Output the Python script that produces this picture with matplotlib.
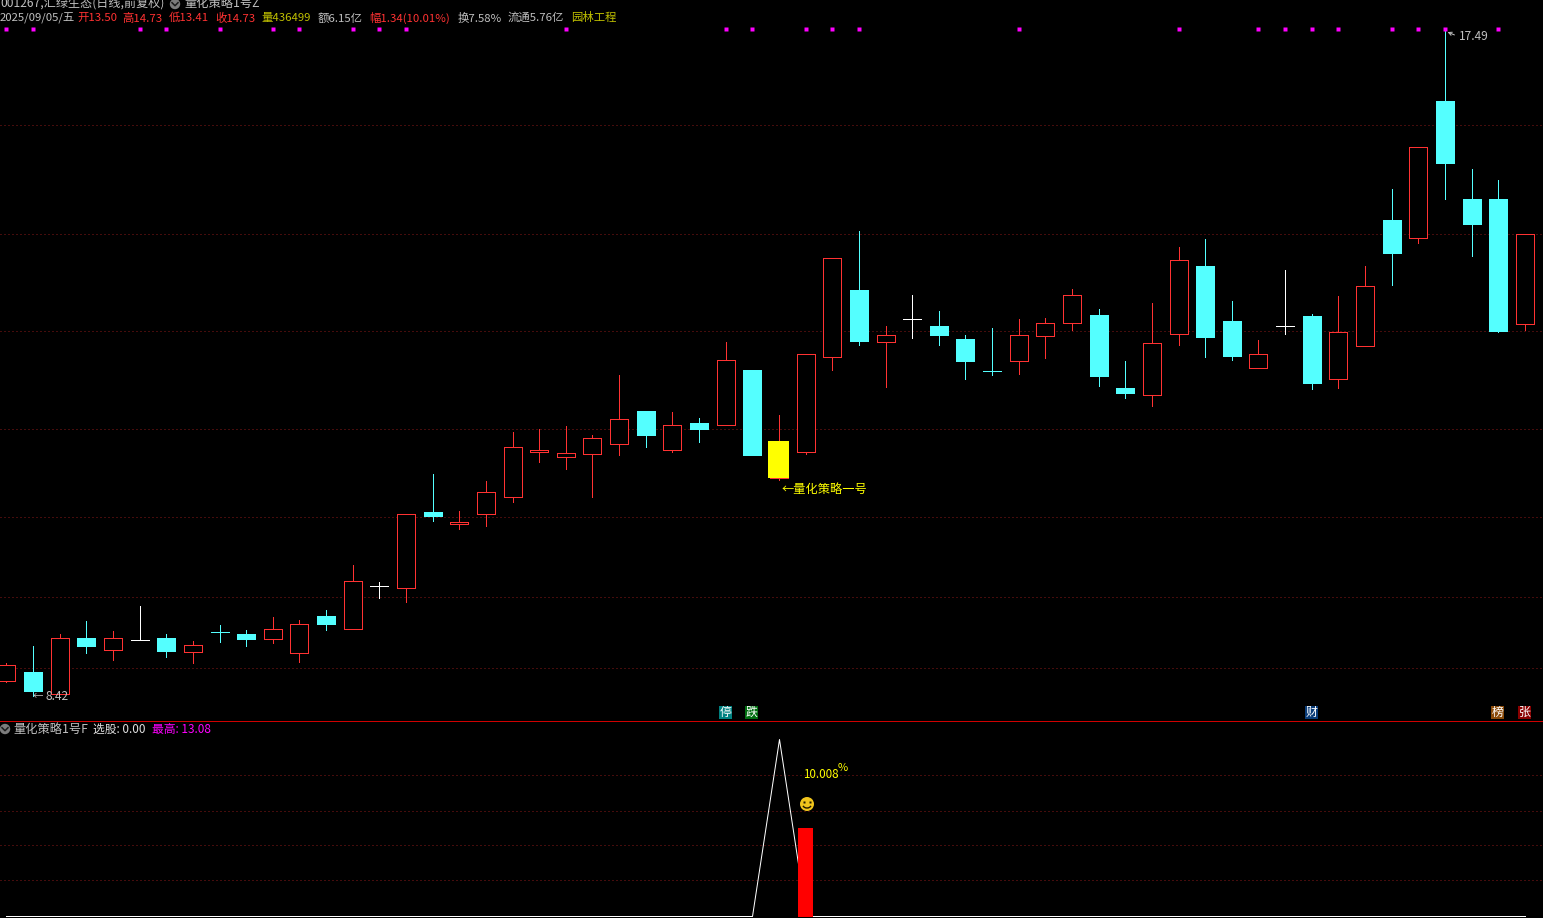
import matplotlib
matplotlib.use('Agg')
import matplotlib.pyplot as plt
from matplotlib.patches import Circle, Arc, Rectangle
import numpy as np

W, H = 1543, 918
plt.rcParams['font.family'] = ['Noto Sans CJK SC', 'DejaVu Sans']

# daily candles
opens = [8.63, 8.75, 8.45, 9.21, 9.05, 9.18, 9.21, 9.02, 9.30, 9.27, 9.20, 9.01, 9.51, 9.33, 9.92,
         9.89, 10.93, 10.77, 10.90, 11.13, 11.75, 11.68, 11.72, 11.86, 12.31, 11.78, 12.14, 12.12, 12.87,
         11.39, 11.75, 13.04, 13.96, 13.25, 13.56, 13.47, 13.29, 12.86, 12.99, 13.33, 13.51, 13.62, 12.62,
         12.53, 13.36, 14.29, 13.54, 12.89, 13.47, 13.60, 12.74, 13.20, 14.91, 14.67, 16.54, 15.20, 15.20, 13.50]
closes = [8.85, 8.49, 9.21, 9.10, 9.21, 9.18, 9.03, 9.12, 9.29, 9.20, 9.33, 9.40, 9.40, 9.99, 9.92,
          10.90, 10.88, 10.79, 11.20, 11.82, 11.78, 11.74, 11.94, 12.20, 11.98, 12.12, 12.06, 13.00, 11.71,
          11.90, 13.09, 14.40, 13.26, 13.35, 13.56, 13.35, 12.99, 12.85, 13.35, 13.51, 13.89, 12.79, 12.55,
          13.24, 14.37, 13.32, 13.06, 13.09, 13.47, 12.69, 13.39, 14.01, 14.46, 15.91, 15.69, 14.86, 13.40, 14.73]
highs = [8.87, 9.10, 9.27, 9.44, 9.31, 9.65, 9.27, 9.17, 9.39, 9.32, 9.50, 9.46, 9.59, 10.21, 9.98,
         10.90, 11.45, 10.94, 11.35, 12.02, 12.06, 12.10, 11.98, 12.80, 12.31, 12.29, 12.21, 13.25, 12.87,
         12.25, 13.09, 14.40, 14.76, 13.47, 13.89, 13.67, 13.35, 13.44, 13.56, 13.58, 13.97, 13.70, 12.99,
         13.78, 14.55, 14.65, 13.81, 13.28, 14.23, 13.63, 13.88, 14.29, 15.34, 15.91, 17.49, 15.61, 15.46, 14.73]
lows = [8.61, 8.42, 8.45, 9.01, 8.91, 9.18, 8.95, 8.87, 9.16, 9.10, 9.14, 8.88, 9.32, 9.33, 9.76,
        9.70, 10.81, 10.70, 10.74, 11.07, 11.61, 11.52, 11.13, 11.71, 11.82, 11.75, 11.89, 12.12, 11.71,
        11.37, 11.72, 12.87, 13.21, 12.64, 13.30, 13.21, 12.74, 12.80, 12.81, 13.03, 13.41, 12.65, 12.49,
        12.38, 13.21, 13.04, 13.00, 12.89, 13.36, 12.61, 12.62, 13.20, 14.03, 14.60, 15.20, 14.42, 13.39, 13.41]

grid_prices = [16.21, 14.73, 13.40, 12.06, 10.86, 9.77, 8.80]
marker_days = [0, 1, 5, 6, 8, 10, 11, 13, 14, 15, 21, 27, 28, 30, 31, 32, 38, 44, 47, 48, 49, 50, 52, 53, 54, 56]
marker_level = 17.52
signal_day = 29

# lower panel
line_values = [0.0] * 58
line_values[29] = 19.91
bar_day = 30
bar_value = 10.008
grid_lower = [15.97, 11.92, 7.99, 4.05]

# header pieces: x, text, colour
grey = '#c0c0c0'
red = '#ff3232'
cyan = '#54ffff'
olive = '#c0c000'
header_top = [(0, '001267,汇绿生态(日线,前复权)', grey), (184, '量化策略1号Z', grey)]
header_info = [(0, '2025/09/05/五', grey), (77, '开13.50', red), (122, '高14.73', red),
               (169, '低13.41', red), (215, '收14.73', red), (261, '量436499', olive),
               (318, '额6.15亿', grey), (369, '幅1.34(10.01%)', red), (458, '换7.58%', grey),
               (508, '流通5.76亿', grey), (571, '园林工程', olive)]
header_lower = [(13, '量化策略1号F', grey), (93, '选股: 0.00', '#e0e0e0'), (152, '最高: 13.08', '#ff00ff')]
tags = [(719, '停', '#008080'), (745, '跌', '#006e10'), (1305, '财', '#0a3c78'),
        (1491, '榜', '#8a4a08'), (1518, '张', '#8a0000')]

fig = plt.figure(figsize=(W / 100, H / 100), dpi=100, facecolor='black')
px = 0.72  # one pixel in points

spacing = 26.64
x_left = -6.4 / spacing
x_right = (W - 6.4) / spacing
days = np.arange(len(opens))

# price panel
ax = fig.add_axes([0, 1 - 720 / H, 1, 720 / H], facecolor='black')
ax.set_xlim(x_left, x_right)
ax.set_ylim(8.093, 17.916)
ax.axis('off')

for g in grid_prices:
    ax.plot([x_left, x_right], [g, g], color='#8a1818', lw=px, ls=(0, (1, 3)), snap=True, zorder=1)

for i in days:
    o, c, h, l = opens[i], closes[i], highs[i], lows[i]
    if c > o:
        col = red
    elif c < o:
        col = cyan
    else:
        col = 'white'
    top = max(o, c)
    bottom = min(o, c)
    ax.plot([i, i], [top, h], color=col, lw=px, antialiased=False, snap=True, zorder=2)
    ax.plot([i, i], [l, bottom], color=col, lw=px, antialiased=False, snap=True, zorder=2)
    face = cyan if c < o else 'black'
    ax.bar(i, top - bottom, width=18 / spacing, bottom=bottom, facecolor=face, edgecolor=col,
           lw=px, antialiased=False, zorder=3)

# highlighted day
ax.bar(signal_day, closes[signal_day] - opens[signal_day], width=21 / spacing, bottom=opens[signal_day],
       color='#ffff00', lw=0, antialiased=False, zorder=4)

ax.plot(marker_days, [marker_level] * len(marker_days), ls='none', marker='s', ms=3.4 * px,
        mfc='#ff00ff', mec='none', zorder=5)

# lower panel
ax2 = fig.add_axes([0, 0, 1, 197 / H], facecolor='black')
ax2.set_xlim(x_left, x_right)
ax2.set_ylim(-0.17, 21.99)
ax2.axis('off')
for g in grid_lower:
    ax2.plot([x_left, x_right], [g, g], color='#8a1818', lw=px, ls=(0, (1, 3)), snap=True, zorder=1)
ax2.plot(days, line_values, color='white', lw=px, snap=True, zorder=2)
ax2.bar(bar_day, bar_value + 0.1, width=15 / spacing, bottom=-0.1, color='#ff0000', lw=0,
        antialiased=False, zorder=3)

# overlay in pixel coordinates for texts, tags and icons
ov = fig.add_axes([0, 0, 1, 1], facecolor='none')
ov.set_xlim(0, W)
ov.set_ylim(H, 0)
ov.axis('off')
ov.plot([0, W], [720.5, 720.5], color='#d00000', lw=px, snap=True)


def put(x, y, s, color, size=8.3):
    ov.text(x, y, s, color=color, fontsize=size, ha='left', va='center')


def icon(x, y):
    ov.add_patch(Circle((x, y), 5.2, color='#7c7c7c', lw=0))
    ov.plot([x - 3, x, x + 3], [y - 1.3, y + 1.7, y - 1.3], color='#1c1c1c', lw=1.1)


put(0, 3.5, header_top[0][1], header_top[0][2], 8.7)
put(184, 3.5, header_top[1][1], header_top[1][2], 8.8)
icon(175, 4)
for x, s, c in header_info:
    put(x, 18, s, c, 8.2)
icon(5, 729)
put(13, 729, header_lower[0][1], header_lower[0][2], 8.8)
for x, s, c in header_lower[1:]:
    put(x, 729, s, c, 8.5)

for x, s, c in tags:
    ov.add_patch(Rectangle((x, 706), 13, 13, color=c, lw=0))
    ov.text(x + 6.5, 712.3, s, color='white', fontsize=8.6, ha='center', va='center')

put(782, 489, '←量化策略一号', '#ffff00', 8.8)
put(33, 695, '←', grey, 7.5)
put(46, 697, '8.42', grey, 8.6)
ov.annotate('', xy=(1445, 31), xytext=(1457, 36),
            arrowprops=dict(arrowstyle='->', color=grey, lw=px, mutation_scale=6))
put(1459, 37, '17.49', grey, 8.6)

put(803, 774, '10.008', '#ffff00', 8.4)
put(838, 768, '%', '#ffff00', 8.0)

# smiley
ov.add_patch(Circle((807, 804), 7, color='#f0c41c', lw=0, zorder=6))
ov.plot([804.3, 809.7], [801.5, 801.5], ls='none', marker='s', ms=1.5, mfc='#201800', mec='none', zorder=7)
ov.add_patch(Arc((807, 804), 9, 8, theta1=25, theta2=155, color='#201800', lw=1, zorder=7))

fig.savefig('out.png', dpi=100, facecolor='black')
